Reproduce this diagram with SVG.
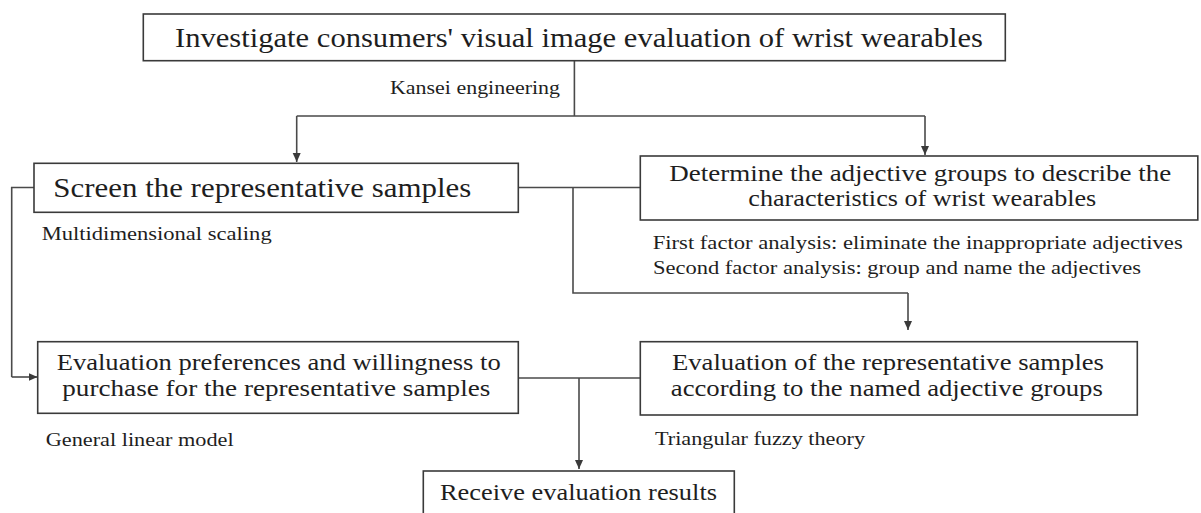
<svg xmlns="http://www.w3.org/2000/svg" width="1201" height="513" viewBox="0 0 1201 513">
<style>
.box{fill:#fff;stroke:#3a3a3a;stroke-width:1.6}
.t{font-family:"Liberation Serif","Times New Roman",serif;fill:#1e1e1e}
.big{font-size:28px}
.mid{font-size:24px}
.sm{font-size:18px}
.ln{fill:none;stroke:#4a4a4a;stroke-width:1.6}
</style>
<defs>
<marker id="ah" markerWidth="10" markerHeight="10" refX="9" refY="5" orient="auto" markerUnits="userSpaceOnUse">
<path d="M0,1 L9,5 L0,9 Z" fill="#3a3a3a"/>
</marker>
</defs>
<rect width="1201" height="513" fill="#fff"/>
<g id="connectors">
<path class="ln" d="M574.4,60.7 V116 M296.7,116 H925"/>
<path class="ln" d="M296.7,116 V162" marker-end="url(#ah)"/>
<path class="ln" d="M925,116 V155" marker-end="url(#ah)"/>
<path class="ln" d="M518.3,187.5 H640.3 M573,187.5 V293 H908"/>
<path class="ln" d="M908,293 V330" marker-end="url(#ah)"/>
<path class="ln" d="M34,187.5 H11.7 V377" />
<path class="ln" d="M11.7,377 H37.5" marker-end="url(#ah)"/>
<path class="ln" d="M518.3,378 H640.3"/>
<path class="ln" d="M579,378 V469" marker-end="url(#ah)"/>
<text class="t sm" x="390" y="94" textLength="170" lengthAdjust="spacingAndGlyphs">Kansei engineering</text>
</g>
<g id="n-investigate">
<rect class="box" x="143.3" y="14" width="862" height="46.7"/>
<text class="t big" x="175" y="47" textLength="808" lengthAdjust="spacingAndGlyphs">Investigate consumers' visual image evaluation of wrist wearables</text>
</g>
<g id="n-screen">
<rect class="box" x="34" y="163.3" width="484.3" height="49"/>
<text class="t big" x="53.3" y="197" textLength="418" lengthAdjust="spacingAndGlyphs">Screen the representative samples</text>
<text class="t sm" x="41.7" y="240" textLength="230" lengthAdjust="spacingAndGlyphs">Multidimensional scaling</text>
</g>
<g id="n-determine">
<rect class="box" x="640.3" y="156" width="557.5" height="64"/>
<text class="t mid" x="669.3" y="180.5" textLength="502" lengthAdjust="spacingAndGlyphs">Determine the adjective groups to describe the</text>
<text class="t mid" x="748.3" y="206" textLength="348" lengthAdjust="spacingAndGlyphs">characteristics of wrist wearables</text>
<text class="t sm" x="652.7" y="249.3" textLength="530" lengthAdjust="spacingAndGlyphs">First factor analysis: eliminate the inappropriate adjectives</text>
<text class="t sm" x="653" y="274" textLength="488" lengthAdjust="spacingAndGlyphs">Second factor analysis: group and name the adjectives</text>
</g>
<g id="n-eval-pref">
<rect class="box" x="37.7" y="341.7" width="480.6" height="71.6"/>
<text class="t mid" x="56.7" y="370" textLength="444" lengthAdjust="spacingAndGlyphs">Evaluation preferences and willingness to</text>
<text class="t mid" x="62.3" y="395.5" textLength="428" lengthAdjust="spacingAndGlyphs">purchase for the representative samples</text>
<text class="t sm" x="45.7" y="446" textLength="188" lengthAdjust="spacingAndGlyphs">General linear model</text>
</g>
<g id="n-eval-adj">
<rect class="box" x="640.3" y="341.7" width="497" height="73.3"/>
<text class="t mid" x="672" y="370" textLength="432" lengthAdjust="spacingAndGlyphs">Evaluation of the representative samples</text>
<text class="t mid" x="670.8" y="395.5" textLength="432" lengthAdjust="spacingAndGlyphs">according to the named adjective groups</text>
<text class="t sm" x="655" y="445" textLength="210" lengthAdjust="spacingAndGlyphs">Triangular fuzzy theory</text>
</g>
<g id="n-receive">
<rect class="box" x="423.3" y="471" width="311" height="60"/>
<text class="t mid" x="440" y="500" textLength="277" lengthAdjust="spacingAndGlyphs">Receive evaluation results</text>
</g>
</svg>
